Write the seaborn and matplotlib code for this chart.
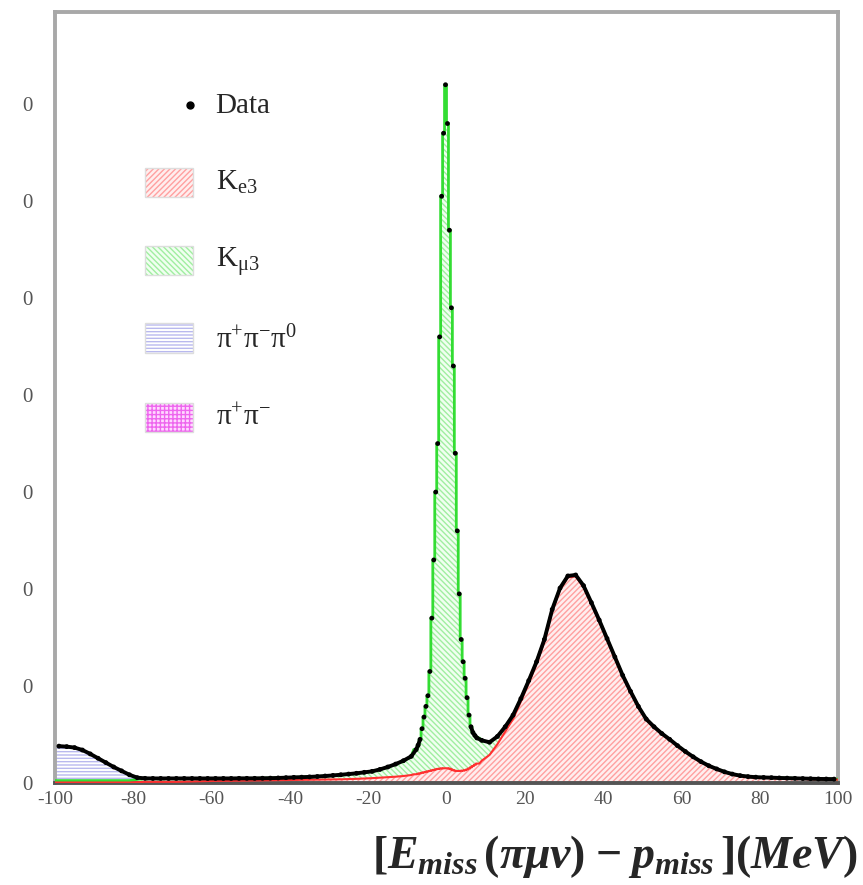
import numpy as np
import pandas as pd
import matplotlib
matplotlib.use("Agg")
import matplotlib.pyplot as plt
import seaborn as sns
from matplotlib.patches import Rectangle

# ---------------- data (bin centres in MeV, counts per bin) ----------------
X_LEFT = np.arange(-99, -8, 2)          # -99 ... -9
X_PEAK = np.arange(-7.75, 8, 0.5)       # -7.75 ... 7.75
X_RIGHT = np.arange(9, 100, 2)          # 9 ... 99

DATA_L = [380, 375, 365, 340, 300, 255, 210, 165, 125, 85, 55, 48, 47, 47, 47, 47,
          47, 47, 47, 47, 47, 47, 47, 48, 48, 48, 49, 50, 52, 55, 58, 60, 63, 67, 72,
          78, 85, 92, 100, 110, 120, 140, 165, 195, 230, 275]
DATA_P = [345, 390, 450, 560, 680, 790, 900, 1150, 1700, 2300, 3000, 3500, 4600, 6050,
          6700, 7200, 6800, 5700, 4900, 4300, 3400, 2600, 1950, 1480, 1250, 1080, 880,
          700, 580, 520, 490, 465]
DATA_R = [440, 420, 480, 580, 700, 870, 1055, 1250, 1480, 1790, 2010, 2135, 2145, 2035,
          1860, 1680, 1490, 1300, 1110, 945, 790, 660, 580, 510, 450, 385, 325, 270, 220,
          178, 145, 115, 92, 76, 66, 60, 57, 55, 52, 50, 48, 46, 44, 42, 41, 40]

KE3_L = [5, 5, 5, 5, 5, 5, 5, 5, 5, 5, 8, 12, 12, 12, 12, 12, 14, 16, 18, 20, 22, 22, 23,
         24, 25, 26, 27, 28, 29, 30, 31, 32, 33, 34, 35, 36, 38, 40, 43, 46, 50, 55, 60,
         65, 72, 82]
KE3_P = [90, 95, 100, 105, 110, 115, 120, 125, 130, 135, 140, 145, 148, 150, 152, 153,
         152, 148, 140, 132, 126, 124, 124, 126, 128, 132, 140, 150, 162, 175, 188, 200]
KE3_R = [230, 290, 400, 530, 660, 840, 1030, 1228, 1460, 1772, 1994, 2120, 2131, 2022,
         1848, 1669, 1480, 1290, 1101, 936, 782, 652, 573, 503, 443, 379, 319, 264, 215,
         173, 140, 110, 87, 71, 61, 55, 52, 50, 47, 45, 43, 41, 39, 37, 36, 35]

KMU3_L = [20, 20, 20, 20, 20, 20, 20, 20, 20, 20, 29, 34, 35, 35, 35, 35, 33, 31, 29, 27,
          25, 25, 24, 24, 23, 22, 22, 22, 23, 25, 27, 28, 30, 33, 37, 42, 47, 52, 57, 64,
          70, 85, 105, 130, 158, 193]
KMU3_P = [255, 295, 350, 455, 570, 675, 780, 1025, 1570, 2165, 2860, 3355, 4452, 5900,
          6548, 7047, 6648, 5552, 4760, 4168, 3274, 2476, 1826, 1354, 1122, 948, 740, 550,
          418, 345, 302, 265]
KMU3_R = [210, 130, 80, 50, 40, 30, 25, 22, 20, 18, 16, 15, 14, 13, 12, 11, 10, 10, 9, 9,
          8, 8, 7, 7, 7, 6, 6, 6, 5, 5, 5, 5, 5, 5, 5, 5, 5, 5, 5, 5, 5, 5, 5, 5, 5, 5]

PI3_L = [355, 350, 340, 315, 275, 230, 185, 140, 100, 60, 18, 2] + [0] * 34
PI3_P = [0] * 32
PI3_R = [0] * 46

PIPI_L = [0] * 46
PIPI_P = [0] * 32
PIPI_R = [0] * 46

X_TICKS = [-100, -80, -60, -40, -20, 0, 20, 40, 60, 80, 100]
Y_TICKS = [0, 1000, 2000, 3000, 4000, 5000, 6000, 7000]
Y_TICK_LABELS = ["0", "0", "0", "0", "0", "0", "0", "0"]

# ---------------- assemble ----------------
x = np.concatenate([X_LEFT, X_PEAK, X_RIGHT]).astype(float)
data = np.array(DATA_L + DATA_P + DATA_R, dtype=float)
ke3 = np.array(KE3_L + KE3_P + KE3_R, dtype=float)
kmu3 = np.array(KMU3_L + KMU3_P + KMU3_R, dtype=float)
pi3 = np.array(PI3_L + PI3_P + PI3_R, dtype=float)
pipi = np.array(PIPI_L + PIPI_P + PIPI_R, dtype=float)
edges = np.concatenate([[-100.0], (x[1:] + x[:-1]) / 2, [100.0]])
in_peak = np.concatenate([np.zeros(len(X_LEFT), bool), np.ones(len(X_PEAK), bool),
                          np.zeros(len(X_RIGHT), bool)])


def profile(vals):
    """Outline: smooth through bin centres in broad regions, stepped in the peak."""
    xs, ys = [-100.0], [vals[0]]
    for i, v in enumerate(vals):
        if in_peak[i]:
            xs += [edges[i], edges[i + 1]]
            ys += [v, v]
        else:
            xs.append(x[i])
            ys.append(v)
    xs.append(100.0)
    ys.append(vals[-1])
    return np.array(xs), np.array(ys)


c1 = ke3
c2 = c1 + kmu3
c3 = c2 + pi3
c4 = c3 + pipi
px, y0 = profile(np.zeros_like(c1))
_, y1 = profile(c1)
_, y2 = profile(c2)
_, y3 = profile(c3)
_, y4 = profile(c4)

df = pd.DataFrame({"x": x, "data": data})

# ---------------- style ----------------
sns.set_theme(style="white")
plt.rcParams["font.family"] = ["Liberation Serif", "DejaVu Serif"]
plt.rcParams["axes.unicode_minus"] = False
plt.rcParams["mathtext.fontset"] = "custom"
plt.rcParams["mathtext.rm"] = "Liberation Serif"
plt.rcParams["mathtext.it"] = "Liberation Serif:italic:bold"
plt.rcParams["mathtext.bf"] = "Liberation Serif:bold"
plt.rcParams["hatch.linewidth"] = 1.0

fig = plt.figure(figsize=(8.63, 8.85), dpi=100)
ax = fig.add_axes([55 / 863, 1 - 783 / 885, (838 - 55) / 863, (783 - 12) / 885])

RED_H, RED_F, RED_E = "#ffa0a0", "#ffeeee", "#ff3030"
GRN_H, GRN_F, GRN_E = "#a0eea0", "#f0fff0", "#33dd33"
BLU_H, BLU_F, BLU_E = "#b8b8ee", "#ffffff", "#7070e0"
PNK_H, PNK_F, PNK_E = "#ee66ee", "#ffd8ff", "#dd44dd"

# stacked components (bottom to top)
ax.fill_between(px, y0, y1, facecolor=RED_F, edgecolor=RED_H, hatch="//////",
                linewidth=0, zorder=2)
ax.fill_between(px, y1, y2, facecolor=GRN_F, edgecolor=GRN_H, hatch="\\\\\\\\\\\\",
                linewidth=0, zorder=2)
ax.fill_between(px, y2, y3, facecolor=BLU_F, edgecolor=BLU_H, hatch="-----",
                linewidth=0, zorder=2)
ax.fill_between(px, y3, y4, facecolor=PNK_F, edgecolor=PNK_H, hatch="++++",
                linewidth=0, zorder=2)
ax.plot(px, y2, color=GRN_E, linewidth=2.0, zorder=3)
ax.plot(px, y1, color=RED_E, linewidth=1.5, zorder=3)

# data: thick line in the broad regions, dots everywhere
left_part = df[df["x"] <= -6.75]
right_part = df[df["x"] >= 6.25]
sns.lineplot(data=left_part, x="x", y="data", color="black", linewidth=2.8, ax=ax,
             zorder=5, sort=True)
sns.lineplot(data=right_part, x="x", y="data", color="black", linewidth=2.8, ax=ax,
             zorder=5, sort=True)
sns.scatterplot(data=df, x="x", y="data", color="black", s=12, edgecolor="none",
                ax=ax, zorder=6)

# ---------------- axes ----------------
ax.set_xlim(-100, 100)
ax.set_ylim(0, 7950)
ax.set_xlabel("")
ax.set_ylabel("")
ax.set_xticks(X_TICKS)
ax.set_xticklabels([str(v) for v in X_TICKS])
ax.set_xticks(np.arange(-100, 101, 5), minor=True)
ax.set_yticks(Y_TICKS)
ax.set_yticklabels(Y_TICK_LABELS)
ax.set_yticks(np.arange(500, 7950, 1000), minor=True)

ax.tick_params(axis="x", which="major", direction="in", length=10, width=1.3,
               color="#888888", labelsize=14, labelcolor="#555555", pad=6)
ax.tick_params(axis="x", which="minor", direction="in", length=5, width=1.0,
               color="#999999")
ax.tick_params(axis="y", which="major", direction="in", length=14, width=1.3,
               color="#999999", labelsize=15, labelcolor="#555555", pad=16)
ax.tick_params(axis="y", which="minor", direction="in", length=7, width=1.0,
               color="#999999")

for side in ["left", "top", "right"]:
    ax.spines[side].set_color("#a8a8a8")
    ax.spines[side].set_linewidth(2.8)
ax.spines["bottom"].set_color("#555555")
ax.spines["bottom"].set_linewidth(2.8)
ax.grid(False)

# ---------------- legend (manual) ----------------
T = ax.transAxes
ax.plot([0.172], [0.880], "o", color="black", markersize=5, transform=T, zorder=7)
ax.text(0.205, 0.878, "Data", transform=T, fontsize=21, va="center", ha="left")

boxes = [
    (0.760, RED_F, RED_H, "//////", r"K$_{\mathrm{e3}}$", 0.7795),
    (0.659, GRN_F, GRN_H, "\\\\\\\\\\\\", r"K$_{\mathrm{\mu 3}}$", 0.676),
    (0.558, BLU_F, BLU_H, "-----", r"π$^{+}$π$^{-}$π$^{0}$", 0.575),
    (0.455, PNK_F, PNK_H, "++++", r"π$^{+}$π$^{-}$", 0.474),
]
for yb, fc, hc, hatch, label, yt in boxes:
    ax.add_patch(Rectangle((0.115, yb), 0.0613, 0.038, transform=T, facecolor=fc,
                           edgecolor=hc, hatch=hatch, linewidth=0, zorder=7))
    ax.add_patch(Rectangle((0.115, yb), 0.0613, 0.038, transform=T, fill=False,
                           edgecolor="#dddddd", linewidth=1.0, zorder=8))
    ax.text(0.205, yt, label, transform=T, fontsize=21, va="center", ha="left")

# ---------------- x label ----------------
fig.text(858 / 863, 1 - 857 / 885,
         r"$\mathbf{[}E_{miss}\,\mathbf{(}\pi\mu\nu\mathbf{)}\;\mathbf{-}\;p_{miss}\,"
         r"\mathbf{]}\mathbf{(}MeV\mathbf{)}$",
         fontsize=33, ha="right", va="center")

fig.savefig("out.png", dpi=100)
